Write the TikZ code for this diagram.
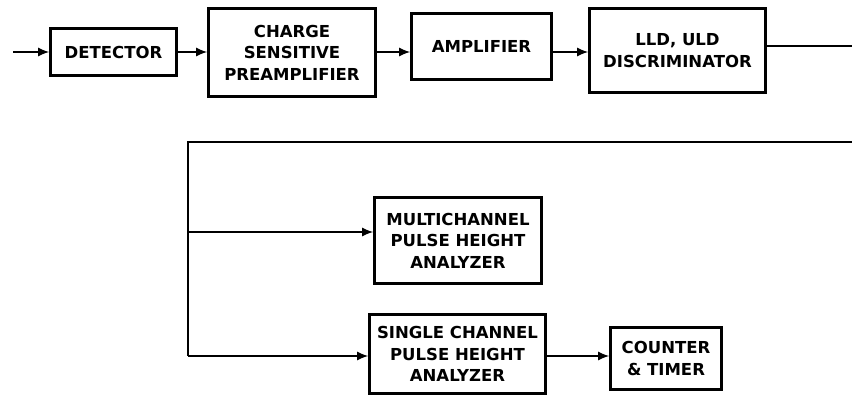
\documentclass[tikz,border=0pt]{standalone}
\usepackage{fontspec}
\setmainfont{DejaVu Sans}
\usetikzlibrary{arrows.meta}

\begin{document}
\begin{tikzpicture}[
        x=1pt, y=-1pt,
        blok/.style={draw, line width=2.8pt, align=center, inner sep=0pt,
            font=\fontsize{16.5}{21.5}\selectfont\bfseries},
        pijl/.style={line width=1.2pt, -{Latex[length=11pt,width=9pt]}},
        lijn/.style={line width=1.2pt}
    ]
        \useasboundingbox (0,0) rectangle (852,396);
        % bovenste rij
        \node[blok, minimum width=126pt, minimum height=47pt] (det) at (113.5,52) {DETECTOR};
        \node[blok, minimum width=167pt, minimum height=88pt] (pre) at (292,52.5) {CHARGE\\SENSITIVE\\PREAMPLIFIER};
        \node[blok, minimum width=140pt, minimum height=66pt] (amp) at (481.5,46.5) {AMPLIFIER};
        \node[blok, minimum width=176pt, minimum height=84pt] (lld) at (677.5,50.5) {LLD, ULD\\DISCRIMINATOR};
        % onderste rij
        \node[blok, minimum width=167pt, minimum height=86pt] (mca) at (458,240.5) {MULTICHANNEL\\PULSE HEIGHT\\ANALYZER};
        \node[blok, minimum width=176pt, minimum height=79pt] (sca) at (457.5,354) {SINGLE CHANNEL\\PULSE HEIGHT\\ANALYZER};
        \node[blok, minimum width=111pt, minimum height=62pt] (cnt) at (666,358.5) {COUNTER\\\& TIMER};
        % hulppunten
        \coordinate (in) at (13,52);
        \coordinate (uit) at (852,46);
        \coordinate (terug) at (852,142);
        \coordinate (hoek) at (188,142);
        \coordinate (tak) at (188,232);
        \coordinate (voet) at (188,356);
        % verbindingen
        \draw[pijl] (in) -- (det.west |- in);
        \draw[pijl] (det.east) -- (pre.west |- det.east);
        \draw[pijl] (pre.east |- det.east) -- (amp.west |- det.east);
        \draw[pijl] (amp.east |- det.east) -- (lld.west |- det.east);
        \draw[lijn] (lld.east |- uit) -- (uit);
        \draw[lijn] (terug) -- (hoek) -- (voet);
        \draw[pijl] (tak) -- (mca.west |- tak);
        \draw[pijl] (voet) -- (sca.west |- voet);
        \draw[pijl] (sca.east |- voet) -- (cnt.west |- voet);
    \end{tikzpicture}
\end{document}
